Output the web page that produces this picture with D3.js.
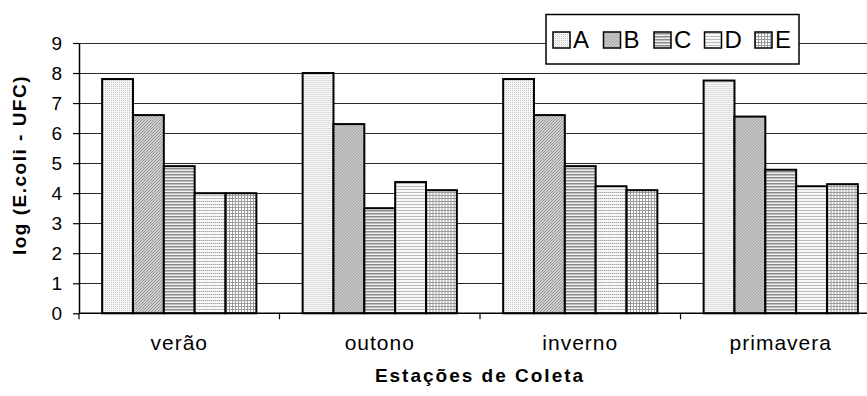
<!DOCTYPE html>
<html>
<head>
<meta charset="utf-8">
<script src="https://cdn.jsdelivr.net/npm/d3@7/dist/d3.min.js"></script>
<style>
  html, body { margin: 0; padding: 0; background: #fff; }
  svg { display: block; font-family: Arial, "Liberation Sans", sans-serif; }
</style>
</head>
<body>
<svg id="chart" width="867" height="396"></svg>
<script>
// Sampling stations (x categories) and the five series drawn in each group
const categories = ["verão", "outono", "inverno", "primavera"];
const seriesNames = ["A", "B", "C", "D", "E"];

// log(E.coli - UFC) per series, one value per station
const valuesA = [7.8, 8.0, 7.8, 7.75];
const valuesB = [6.6, 6.3, 6.6, 6.55];
const valuesC = [4.9, 3.5, 4.9, 4.78];
const valuesD = [4.0, 4.37, 4.23, 4.23];
const valuesE = [4.0, 4.1, 4.1, 4.3];

const yTicks = [0, 1, 2, 3, 4, 5, 6, 7, 8, 9];

const yTitle = "log (E.coli - UFC)";
const xTitle = "Estações de Coleta";

const seriesValues = { A: valuesA, B: valuesB, C: valuesC, D: valuesD, E: valuesE };

const svg = d3.select("#chart");
const W = 867;

const plot = { left: 79, right: 881, top: 43, bottom: 313.3 };

const x0 = d3.scaleBand().domain(categories).range([plot.left, plot.right]).padding(0);
const x1 = d3.scaleBand().domain(seriesNames).range([0, x0.bandwidth()])
  .paddingInner(0).paddingOuter(0.75);
const y = d3.scaleLinear().domain([0, 9]).range([plot.bottom, plot.top]);

// Fill patterns, one per series
const defs = svg.append("defs");
function pat(id, w, h, bg, draw) {
  const p = defs.append("pattern").attr("id", id).attr("patternUnits", "userSpaceOnUse")
    .attr("width", w).attr("height", h);
  p.append("rect").attr("width", w).attr("height", h).attr("fill", bg);
  draw(p);
}
pat("pA", 2, 2, "#f6f6f6", p => {
  p.append("rect").attr("x", 0).attr("y", 0).attr("width", 1).attr("height", 1).attr("fill", "#c4c4c4");
});
pat("pB", 3, 3, "#cfcfcf", p => {
  p.append("path").attr("d", "M0,3 L3,0 M-1,1 L1,-1 M2,4 L4,2").attr("stroke", "#8e8e8e").attr("stroke-width", 0.9);
});
pat("pC", 3, 3, "#f0f0f0", p => {
  p.append("rect").attr("x", 0).attr("y", 0).attr("width", 3).attr("height", 1).attr("fill", "#8c8c8c");
  p.append("rect").attr("x", 0).attr("y", 1).attr("width", 3).attr("height", 1).attr("fill", "#bdbdbd");
});
pat("pD", 2, 3, "#f7f7f7", p => {
  p.append("rect").attr("x", 0).attr("y", 0).attr("width", 1).attr("height", 1).attr("fill", "#a8a8a8");
  p.append("rect").attr("x", 1).attr("y", 0).attr("width", 1).attr("height", 1).attr("fill", "#d0d0d0");
});
pat("pE", 3, 3, "#ffffff", p => {
  p.append("rect").attr("x", 0).attr("y", 0).attr("width", 3).attr("height", 1).attr("fill", "#9a9a9a");
  p.append("rect").attr("x", 0).attr("y", 0).attr("width", 1).attr("height", 3).attr("fill", "#9a9a9a");
});
const fills = { A: "url(#pA)", B: "url(#pB)", C: "url(#pC)", D: "url(#pD)", E: "url(#pE)" };

// Horizontal gridlines
svg.append("g").selectAll("line")
  .data(yTicks.filter(t => t > 0))
  .join("line")
  .attr("x1", plot.left).attr("x2", W)
  .attr("y1", d => Math.round(y(d)) + 0.5).attr("y2", d => Math.round(y(d)) + 0.5)
  .attr("stroke", "#2a2a2a").attr("stroke-width", 1);

// Bars
const groups = svg.append("g").selectAll("g")
  .data(categories)
  .join("g")
  .attr("transform", d => `translate(${x0(d)},0)`);

groups.selectAll("rect")
  .data((c, i) => seriesNames.map(s => ({ s, v: seriesValues[s][i] })))
  .join("rect")
  .attr("x", d => x1(d.s))
  .attr("width", x1.bandwidth())
  .attr("y", d => y(d.v))
  .attr("height", d => y(0) - y(d.v))
  .attr("fill", d => fills[d.s])
  .attr("stroke", "#000")
  .attr("stroke-width", 2);

// Y axis
const yAxis = svg.append("g")
  .attr("transform", `translate(${plot.left},0)`)
  .call(d3.axisLeft(y).tickValues(yTicks).tickSize(6).tickPadding(11).tickSizeOuter(0));
yAxis.select(".domain").attr("stroke", "#000").attr("stroke-width", 1.5);
yAxis.selectAll(".tick line").attr("stroke", "#000").attr("stroke-width", 1.2);
yAxis.selectAll(".tick text")
  .attr("font-size", 19).attr("fill", "#000")
  .attr("font-family", "Arial, 'Liberation Sans', sans-serif");

// X axis: baseline, boundary ticks and centred labels
svg.append("line")
  .attr("x1", plot.left).attr("x2", W)
  .attr("y1", plot.bottom).attr("y2", plot.bottom)
  .attr("stroke", "#000").attr("stroke-width", 1.5);

svg.append("g").selectAll("line")
  .data(categories)
  .join("line")
  .attr("x1", d => x0(d)).attr("x2", d => x0(d))
  .attr("y1", plot.bottom).attr("y2", plot.bottom + 6)
  .attr("stroke", "#000").attr("stroke-width", 1.2);

const xAxis = svg.append("g")
  .attr("transform", `translate(0,${plot.bottom})`)
  .call(d3.axisBottom(x0).tickSize(0).tickPadding(22));
xAxis.select(".domain").remove();
xAxis.selectAll(".tick text")
  .attr("font-size", 21).attr("fill", "#000")
  .attr("letter-spacing", 1)
  .attr("font-family", "Arial, 'Liberation Sans', sans-serif");

// Axis titles
svg.append("text")
  .attr("x", (plot.left + plot.right) / 2)
  .attr("y", 382)
  .attr("text-anchor", "middle")
  .attr("font-size", 19).attr("font-weight", "bold")
  .attr("letter-spacing", 2)
  .text(xTitle);

svg.append("text")
  .attr("transform", `translate(26,${165}) rotate(-90)`)
  .attr("text-anchor", "middle")
  .attr("font-size", 19).attr("font-weight", "bold")
  .attr("letter-spacing", 1.5)
  .text(yTitle);

// Legend
const legend = svg.append("g");
legend.append("rect")
  .attr("x", 546).attr("y", 14.5).attr("width", 253).attr("height", 49.5)
  .attr("fill", "#fff").attr("stroke", "#000").attr("stroke-width", 1.5);

const legendStep = d3.scalePoint().domain(seriesNames).range([553, 755]);
const items = legend.selectAll("g.item")
  .data(seriesNames)
  .join("g")
  .attr("class", "item")
  .attr("transform", d => `translate(${legendStep(d)},0)`);
items.append("rect")
  .attr("x", 0).attr("y", 32).attr("width", 17).attr("height", 16)
  .attr("fill", d => fills[d]).attr("stroke", "#000").attr("stroke-width", 1.5);
items.append("text")
  .attr("x", 20).attr("y", 48)
  .attr("font-size", 24).attr("fill", "#000")
  .text(d => d);
</script>
</body>
</html>
